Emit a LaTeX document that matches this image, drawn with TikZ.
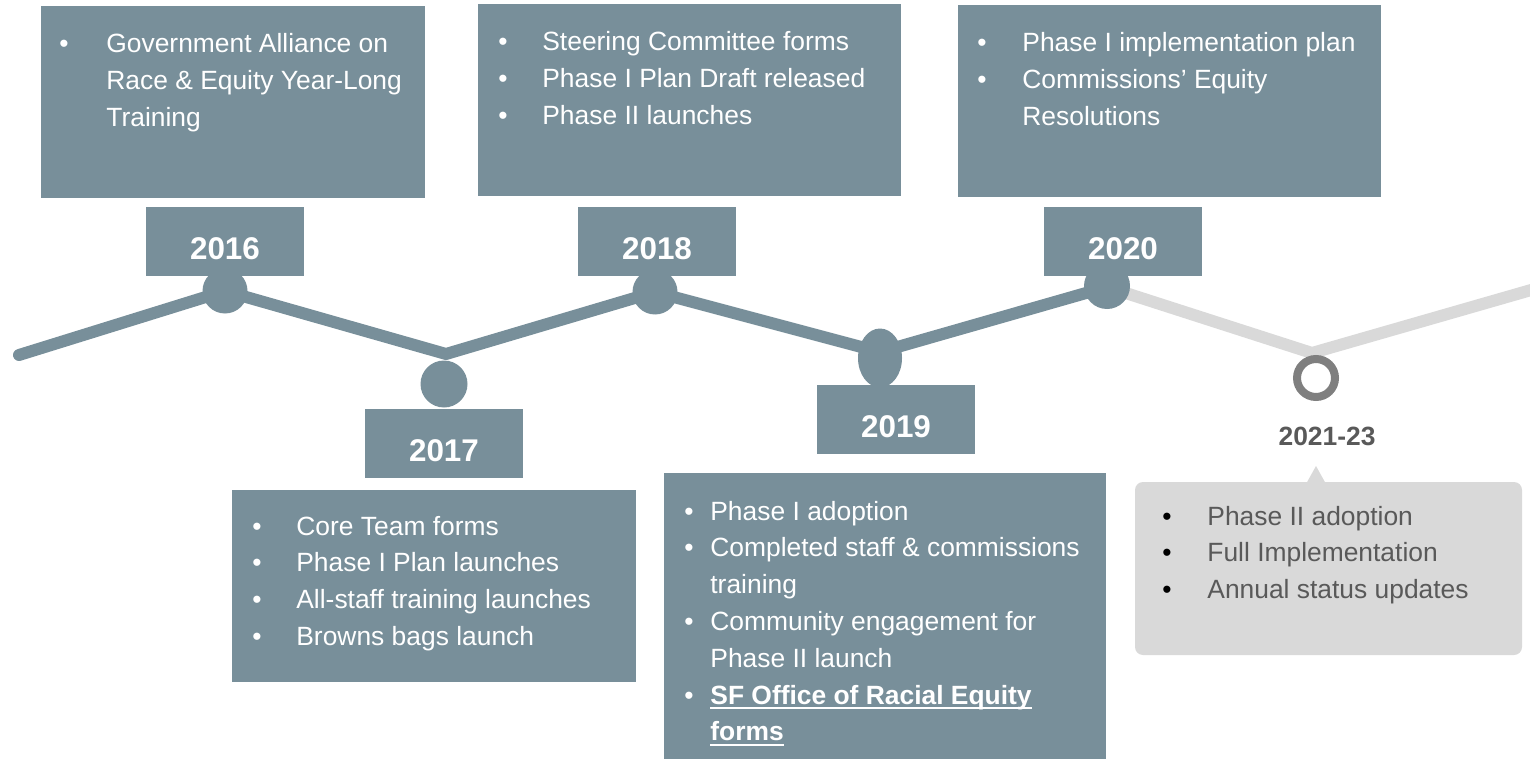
\documentclass[tikz,border=0pt]{standalone}
\usepackage{fontspec}
\setmainfont{Liberation Sans}
\usetikzlibrary{fit,shapes.geometric}

\definecolor{slate}{RGB}{120,143,154}
\definecolor{mist}{RGB}{217,217,217}
\definecolor{ash}{RGB}{127,127,127}
\definecolor{inkgrey}{RGB}{89,89,89}

% underline sitting just below the baseline
\newcommand{\undl}[1]{\setbox0=\hbox{#1}\rlap{\rule[-2.6pt]{\wd0}{1pt}}\box0}
% black bullet in grey text
\newcommand{\blackbul}{\leavevmode\hbox{\color{black}\textbullet}}

\tikzset{
  panel/.style={fill=slate, inner sep=0pt},
  greypanel/.style={fill=mist, inner sep=0pt, rounded corners=4pt},
  tag/.style={fill=slate, text=white, inner sep=0pt, minimum width=79pt,
    text height=26.5pt, text depth=8pt, anchor=south,
    font=\bfseries\fontsize{15.7}{18}\selectfont},
  list/.style={inner sep=0pt, anchor=base west, text=white,
    font=\fontsize{13.2}{18.4}\selectfont},
  dot/.style={circle, fill=slate, inner sep=0pt, minimum size=22.5pt},
  spine/.style={line width=6pt, draw=slate, line cap=round, line join=round},
}

\begin{document}
\begin{tikzpicture}[x=0.5pt, y=-0.5pt]
	\useasboundingbox (0,0) rectangle (1530,759);

	% Timeline vertices
	\coordinate (v0) at (19,355);
	\coordinate (v1) at (225,291);
	\coordinate (v2) at (446,354);
	\coordinate (v3) at (655,292);
	\coordinate (v4) at (880,352);
	\coordinate (v5) at (1107,287);
	\coordinate (v6) at (1312,353);
	\coordinate (v7) at (1545,286);

	% Timeline
	\draw[spine, draw=mist, line cap=butt] (v5) -- (v6) -- (v7);
	\draw[spine] (v0) -- (v1) -- (v2) -- (v3) -- (v4) -- (v5);

	% Dots
	\node[dot] (d16) at (225,291) {};
	\node[dot, minimum size=23.5pt] (d17) at (444,384) {};
	\node[dot] (d18) at (655,292) {};
	\node[dot, ellipse, minimum width=22pt, minimum height=29.5pt] (d19) at (880,358) {};
	\node[dot, minimum size=23pt] (d20) at (1107,286) {};
	\node[circle, draw=ash, line width=4pt, fill=white, inner sep=0pt,
	  minimum size=19pt] (d21) at (1316,378) {};

	% Year tags
	\node[tag] (tag16) at (225,276) {2016};
	\node[tag] (tag17) at (444,478) {2017};
	\node[tag] (tag18) at (657,276) {2018};
	\node[tag] (tag19) at (896,454) {2019};
	\node[tag] (tag20) at (1123,276) {2020};
	\node[font=\bfseries\fontsize{13.2}{16}\selectfont, text=inkgrey,
	  anchor=base, inner sep=0pt] (tag21) at (1327,445) {2021-23};

	% Top panels
	\node[panel, fit={(41,6) (425,198)}] (top16) {};
	\node[panel, fit={(478,4) (901,196)}] (top18) {};
	\node[panel, fit={(958,5) (1381,197)}] (top20) {};

	% Bottom panels
	\node[panel, fit={(232,490) (636,682)}] (bot17) {};
	\node[panel, fit={(664,473) (1106,759)}] (bot19) {};
	\fill[mist] (1306,484) -- (1316,466) -- (1326,484) -- cycle;
	\node[greypanel, fit={(1135,482) (1522,655)}] (bot21) {};

	% Panel texts
	\node[list] (txt16) at (59,53) {\begin{tabular}[t]{@{}p{23.5pt}@{}l@{}}
	\textbullet & Government Alliance on\\
	 & Race \& Equity Year-Long\\
	 & Training
	\end{tabular}};
	\node[list] (txt18) at (498,51) {\begin{tabular}[t]{@{}p{22pt}@{}l@{}}
	\textbullet & Steering Committee forms\\
	\textbullet & Phase I Plan Draft released\\
	\textbullet & Phase II launches
	\end{tabular}};
	\node[list] (txt20) at (977,52) {\begin{tabular}[t]{@{}p{22.5pt}@{}l@{}}
	\textbullet & Phase I implementation plan\\
	\textbullet & Commissions’ Equity\\
	 & Resolutions
	\end{tabular}};
	\node[list] (txt17) at (252,535) {\begin{tabular}[t]{@{}p{22pt}@{}l@{}}
	\textbullet & Core Team forms\\
	\textbullet & Phase I Plan launches\\
	\textbullet & All-staff training launches\\
	\textbullet & Browns bags launch
	\end{tabular}};
	\node[list] (txt19) at (684,520) {\begin{tabular}[t]{@{}p{13pt}@{}l@{}}
	\textbullet & Phase I adoption\\
	\textbullet & Completed staff \& commissions\\
	 & training\\
	\textbullet & Community engagement for\\
	 & Phase II launch\\
	\textbullet & \undl{\bfseries SF Office of Racial Equity}\\
	 & \undl{\bfseries forms}
	\end{tabular}};
	\node[list, text=inkgrey] (txt21) at (1162,525) {\begin{tabular}[t]{@{}p{22.5pt}@{}l@{}}
	\blackbul & Phase II adoption\\
	\blackbul & Full Implementation\\
	\blackbul & Annual status updates
	\end{tabular}};

\end{tikzpicture}
\end{document}
